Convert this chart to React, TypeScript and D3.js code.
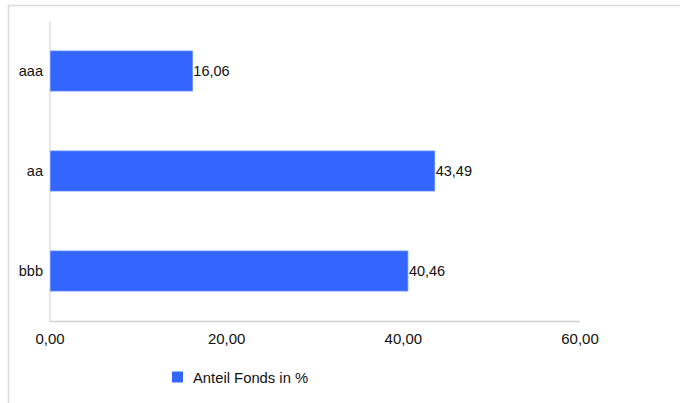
import React from "react";
import * as d3 from "d3";

const categories = ["aaa", "aa", "bbb"];
const values = [16.06, 43.49, 40.46];
const xTicks = [0, 20, 40, 60];
const seriesName = "Anteil Fonds in %";

const fmt = (v: number) => v.toFixed(2).replace(".", ",");

export default function App() {
  const W = 680, H = 403;
  const x = d3.scaleLinear().domain([0, 60]).range([50, 580]);
  const y = d3.scaleBand<string>().domain(categories).range([21, 321]).paddingInner(0.6).paddingOuter(0.3);
  const font = "'Liberation Sans', Arial, sans-serif";
  return (
    <svg width={W} height={H} style={{ position: "absolute", left: 0, top: 0, background: "#fff" }} fontFamily={font}>
      <rect x={8.5} y={5.5} width={W + 10} height={H + 10} fill="#fff" stroke="#dcdcdc" strokeWidth={1.5} />
      <line x1={50} x2={50} y1={21} y2={322} stroke="#d0d0d0" strokeWidth={1} />
      <line x1={50} x2={580} y1={321.5} y2={321.5} stroke="#d0d0d0" strokeWidth={1.5} />
      {categories.map((c, i) => (
        <g key={c}>
          <rect x={x(0) + 0.5} y={y(c)!} width={x(values[i]) - x(0)} height={y.bandwidth()} fill="#3366ff" stroke="#5c85ff" strokeWidth={0.8} />
          <text x={43} y={y(c)! + y.bandwidth() / 2 + 5} textAnchor="end" fontSize={14.5} fill="#111">{c}</text>
          <text x={x(values[i]) + 1.5} y={y(c)! + y.bandwidth() / 2 + 5} fontSize={14.5} fill="#111">{fmt(values[i])}</text>
        </g>
      ))}
      {xTicks.map((t) => (
        <text key={t} x={x(t)} y={344} textAnchor="middle" fontSize={15} fill="#111">{fmt(t)}</text>
      ))}
      <rect x={172} y={371.5} width={11} height={11} fill="#3366ff" />
      <text x={193} y={383} fontSize={14.8} fill="#111">{seriesName}</text>
    </svg>
  );
}
